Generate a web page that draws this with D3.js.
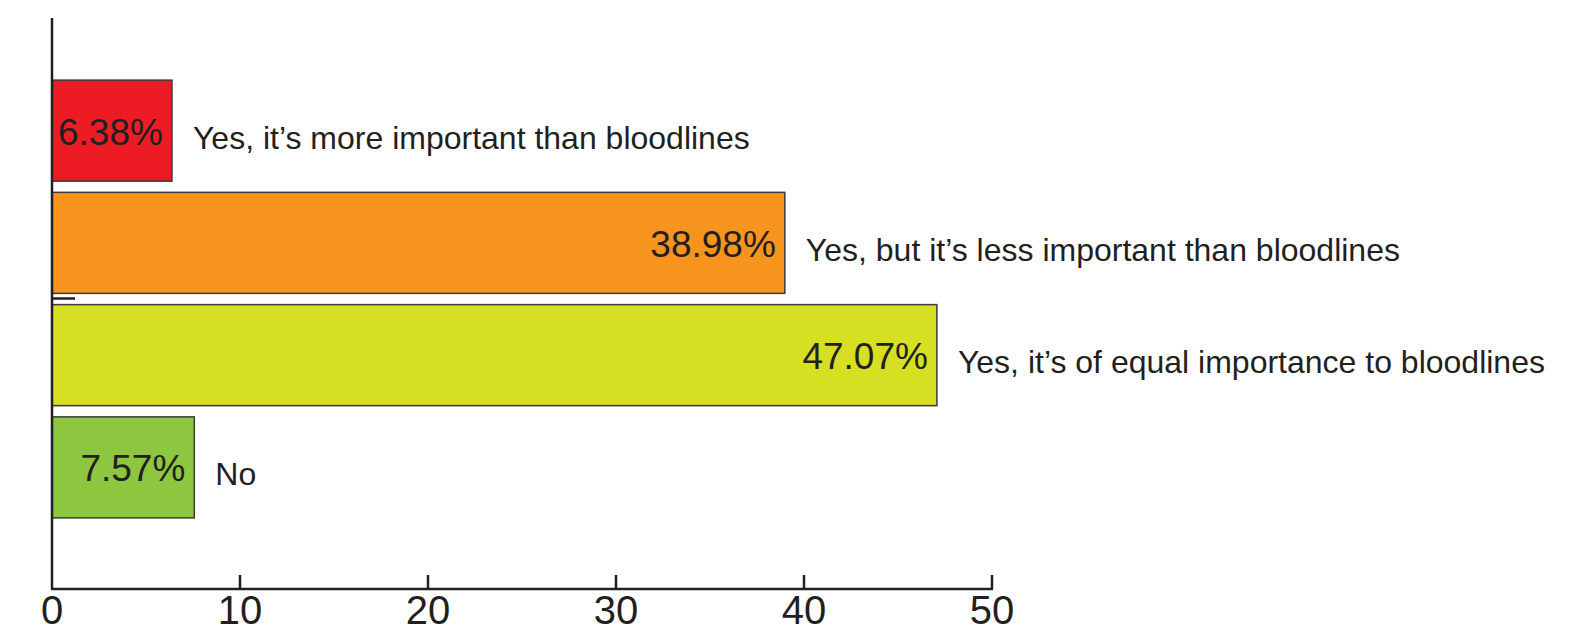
<!DOCTYPE html>
<html>
<head>
<meta charset="utf-8">
<script src="https://cdn.jsdelivr.net/npm/d3@7"></script>
<style>
  body { margin: 0; background: #fff; }
  svg { display: block; font-family: "Liberation Sans", Arial, Helvetica, sans-serif; }
</style>
</head>
<body>
<svg width="1592" height="634"></svg>
<script>
const categories = [
	"Yes, it\u2019s more important than bloodlines",
	"Yes, but it\u2019s less important than bloodlines",
	"Yes, it\u2019s of equal importance to bloodlines",
	"No"
];
const values = [6.38, 38.98, 47.07, 7.57];
const valueLabels = ["6.38%", "38.98%", "47.07%", "7.57%"];
const colors = ["#ed1c24", "#f7941d", "#d7df23", "#8dc63f"];
const xTicks = [0, 10, 20, 30, 40, 50];

let svg = d3.select("svg"),
	ink = "#231f20";

let x = d3.scaleLinear().domain([0, 50]).range([52, 992]);
let y = d3.scaleBand().domain(categories).range([74.5, 523.5]).paddingInner(0.1).paddingOuter(0.05);

// bars
let gbar = svg.append("g").attr('class','bars');
gbar.selectAll("rect")
		.data(values)
	.enter().append("rect")
		.attr("x", x(0))
		.attr("y", (d,i)=> y(categories[i]))
		.attr("width", d=> x(d) - x(0))
		.attr("height", y.bandwidth())
		.attr("fill", (d,i)=> colors[i])
		.attr("stroke", "#3a3a3a")
		.attr("stroke-width", 1.5);

// value labels inside the bars
gbar.selectAll("text.val")
		.data(values)
	.enter().append("text")
		.attr("class","val")
		.attr("x", d=> x(d) - 9)
		.attr("y", (d,i)=> y(categories[i]) + y.bandwidth()/2 + 14)
		.attr("text-anchor","end")
		.attr("font-size", 37)
		.attr("fill", ink)
		.text((d,i)=> valueLabels[i]);

// category labels to the right
gbar.selectAll("text.cat")
		.data(values)
	.enter().append("text")
		.attr("class","cat")
		.attr("x", d=> x(d) + 21)
		.attr("y", (d,i)=> y(categories[i]) + y.bandwidth()/2 + 18)
		.attr("font-size", 32)
		.attr("fill", ink)
		.text((d,i)=> categories[i]);

// axes
let gaxis = svg.append("g").attr('class','axis');
gaxis.append("line")
	.attr("x1", x(0)).attr("x2", x(0))
	.attr("y1", 18).attr("y2", 589)
	.attr("stroke", ink).attr("stroke-width", 2.5);
gaxis.append("line")
	.attr("x1", x(0) - 1).attr("x2", x(50) + 1)
	.attr("y1", 589).attr("y2", 589)
	.attr("stroke", ink).attr("stroke-width", 2.5);
// stray dash at the middle of the y axis
gaxis.append("line")
	.attr("x1", x(0)).attr("x2", x(0) + 23)
	.attr("y1", 298.5).attr("y2", 298.5)
	.attr("stroke", ink).attr("stroke-width", 2.5);

gaxis.selectAll("line.tick")
		.data(xTicks.slice(1))
	.enter().append("line")
		.attr("class","tick")
		.attr("x1", d=> x(d)).attr("x2", d=> x(d))
		.attr("y1", 575).attr("y2", 589)
		.attr("stroke", ink).attr("stroke-width", 2.5);

gaxis.selectAll("text")
		.data(xTicks)
	.enter().append("text")
		.attr("x", d=> x(d))
		.attr("y", 624)
		.attr("text-anchor","middle")
		.attr("font-size", 40)
		.attr("fill", ink)
		.text(d=> d);
</script>
</body>
</html>
